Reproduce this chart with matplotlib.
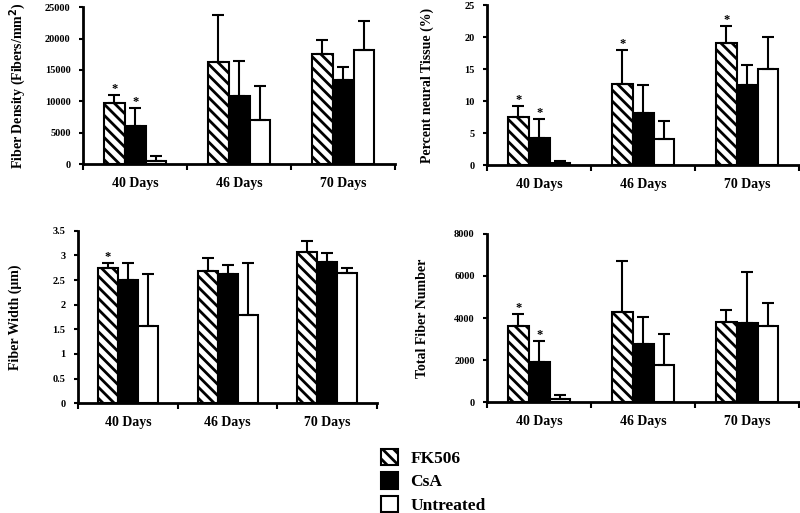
import matplotlib
matplotlib.use("Agg")
import matplotlib.pyplot as plt
import numpy as np

plt.rcParams['font.family'] = ['Liberation Serif', 'DejaVu Serif']
plt.rcParams['font.weight'] = 'bold'
plt.rcParams['hatch.linewidth'] = 2.0

days = ["40 Days", "46 Days", "70 Days"]
groups = ["FK506", "CsA", "Untreated"]

# fiber density (fibers/mm^2): mean and top of error bar
density = [[9800, 16200, 17500], [6100, 10900, 13400], [500, 7100, 18200]]
density_top = [[11000, 23700, 19700], [8900, 16500, 15500], [1300, 12500, 22800]]
density_star = [[True, False, False], [True, False, False], [False, False, False]]

# percent neural tissue
percent = [[7.6, 12.7, 19.1], [4.2, 8.2, 12.5], [0.3, 4.1, 15.0]]
percent_top = [[9.2, 18.0, 21.8], [7.2, 12.6, 15.6], [0.6, 6.9, 20.0]]
percent_star = [[True, True, True], [True, False, False], [False, False, False]]

# fiber width (um)
width = [[2.75, 2.68, 3.08], [2.5, 2.62, 2.87], [1.57, 1.8, 2.65]]
width_top = [[2.84, 2.95, 3.30], [2.84, 2.80, 3.05], [2.63, 2.84, 2.75]]
width_star = [[True, False, False], [False, False, False], [False, False, False]]

# total fiber number
total = [[3600, 4300, 3800], [1900, 2750, 3750], [150, 1750, 3600]]
total_top = [[4200, 6700, 4400], [2900, 4050, 6200], [350, 3250, 4700]]
total_star = [[True, False, False], [True, False, False], [False, False, False]]

styles = [dict(facecolor='white', hatch='\\\\\\'),
          dict(facecolor='black'),
          dict(facecolor='white')]

fig = plt.figure(figsize=(8, 5.13), dpi=100)


def panel(rect, vals, tops, stars, ylim, yticks, yticklabels, ylabel, lpad):
    ax = fig.add_axes(rect)
    x = np.arange(3) + 0.5
    bw = 0.2
    bars = []
    for i in range(3):
        xs = x + (i - 1) * bw
        v = np.array(vals[i])
        err = np.array(tops[i]) - v
        b = ax.bar(xs, v, bw, edgecolor='black', linewidth=1.5, **styles[i])
        bars.append(b)
        ax.errorbar(xs, v, yerr=[np.zeros(3), err], fmt='none', ecolor='black',
                    elinewidth=1.5, capsize=4, capthick=1.5)
        for j in range(3):
            if stars[i][j]:
                ax.text(xs[j], tops[i][j], '*', ha='center', va='bottom',
                        fontsize=9, fontweight='bold')
    ax.set_xlim(0, 3)
    ax.set_ylim(*ylim)
    ax.set_xticks([0, 1, 2, 3])
    ax.set_xticklabels([])
    ax.set_xticks(x, minor=True)
    ax.set_xticklabels(days, minor=True, fontsize=10, fontweight='bold')
    ax.tick_params(axis='x', which='minor', length=0, pad=9)
    ax.tick_params(axis='x', which='major', length=4, width=1.5, direction='out')
    ax.set_yticks(yticks)
    ax.set_yticklabels(yticklabels, fontsize=7.5, fontweight='bold')
    ax.tick_params(axis='y', length=3, width=1.5, pad=6)
    ax.set_ylabel(ylabel, fontsize=10, fontweight='bold', labelpad=lpad)
    for s in ['top', 'right']:
        ax.spines[s].set_visible(False)
    for s in ['left', 'bottom']:
        ax.spines[s].set_linewidth(2)
    return bars


bars = panel([0.104, 0.680, 0.390, 0.306], density, density_top, density_star,
             (0, 25000), range(0, 25001, 5000), [str(v) for v in range(0, 25001, 5000)],
             'Fiber Density (Fibers/mm$^\\mathbf{2}$)', 12)
panel([0.609, 0.678, 0.390, 0.312], percent, percent_top, percent_star,
      (0, 25), range(0, 26, 5), [str(v) for v in range(0, 26, 5)],
      'Percent neural Tissue (%)', 22)
wt = [0, 0.5, 1, 1.5, 2, 2.5, 3, 3.5]
panel([0.0975, 0.214, 0.374, 0.336], width, width_top, width_star,
      (0, 3.5), wt, ['0', '0.5', '1', '1.5', '2', '2.5', '3', '3.5'],
      'Fiber Width (\u03bcm)', 22)
panel([0.609, 0.216, 0.390, 0.328], total, total_top, total_star,
      (0, 8000), range(0, 8001, 2000), [str(v) for v in range(0, 8001, 2000)],
      'Total Fiber Number', 18)

fig.legend(bars, groups, loc='lower left', bbox_to_anchor=(0.463, -0.022),
           frameon=False, fontsize=12.5, handlelength=1.0, handleheight=1.1,
           handletextpad=0.7, labelspacing=0.3, borderaxespad=0.2)

fig.savefig('out.png', dpi=100)
